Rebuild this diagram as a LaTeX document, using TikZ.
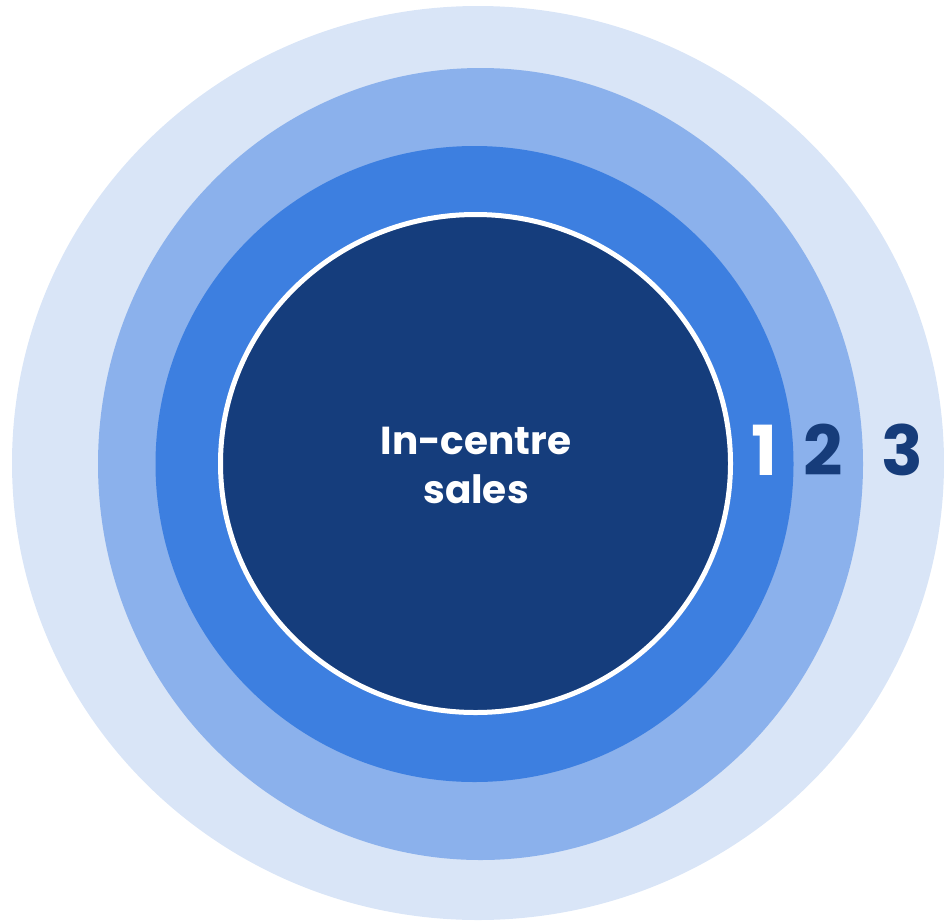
\documentclass[tikz,border=0pt]{standalone}
\usepackage{fontspec}
\setmainfont{Poppins}
\definecolor{ringthree}{HTML}{D9E5F7}
\definecolor{ringtwo}{HTML}{8BB1EC}
\definecolor{ringone}{HTML}{3D7FE0}
\definecolor{core}{HTML}{153D7C}
\definecolor{numdark}{HTML}{163C7A}
\tikzset{
  ring/.style={draw=none},
  corelabel/.style={text=white, font=\bfseries\fontsize{39}{49}\selectfont, align=center},
  ringnum/.style={font=\bfseries\fontsize{69}{69}\selectfont, inner sep=0pt}
}
\begin{document}
\begin{tikzpicture}[x=1pt,y=-1pt]
  \useasboundingbox (0,0) rectangle (944,921);
  \clip (0,0) rectangle (944,921);
  % concentric rings, outermost first
  \fill[ring, ringthree] (478,463) ellipse [x radius=466, y radius=457];
  \fill[ring, ringtwo] (480.5,464) ellipse [x radius=382.5, y radius=396];
  \fill[ring, ringone] (474.5,464) ellipse [x radius=319, y radius=318];
  \fill[core, draw=white, line width=5pt] (475.5,463.5) ellipse [x radius=255, y radius=249];
  % labels
  \node[corelabel] (core) at (476,465) {In-centre\\sales};
  \node[ringnum, text=white] (n1) at (764,450) {1};
  \node[ringnum, text=numdark] (n2) at (823,450) {2};
  \node[ringnum, text=numdark] (n3) at (902,450) {3};
\end{tikzpicture}
\end{document}
